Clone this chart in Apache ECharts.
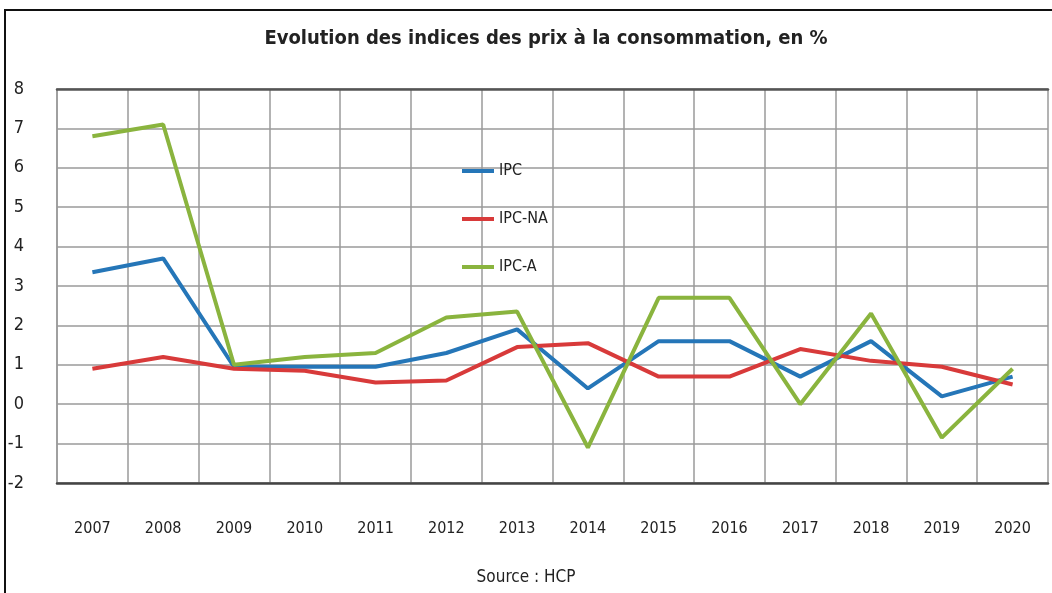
<!DOCTYPE html>
<html>
<head>
<meta charset="utf-8">
<script src="https://cdn.jsdelivr.net/npm/echarts@6/dist/echarts.min.js"></script>
<style>
  html, body { margin: 0; padding: 0; background: #fff; }
  #chart { width: 1052px; height: 593px; }
</style>
</head>
<body>
<div id="chart"></div>
<script>
var years = ['2007','2008','2009','2010','2011','2012','2013','2014','2015','2016','2017','2018','2019','2020'];
var ipc   = [3.35, 3.7, 0.95, 0.95, 0.95, 1.3, 1.9, 0.4, 1.6, 1.6, 0.7, 1.6, 0.2, 0.7];
var ipcNA = [0.9, 1.2, 0.9, 0.85, 0.55, 0.6, 1.45, 1.55, 0.7, 0.7, 1.4, 1.1, 0.95, 0.5];
var ipcA  = [6.8, 7.1, 1.0, 1.2, 1.3, 2.2, 2.35, -1.1, 2.7, 2.7, 0.0, 2.3, -0.85, 0.9];

var narrow = "'Liberation Sans Narrow', 'DejaVu Sans Condensed', sans-serif";

var myChart = echarts.init(document.getElementById('chart'));
myChart.setOption({
    animation: false,
    backgroundColor: '#fff',
    title: {
        text: 'Evolution des indices des prix à la consommation, en %',
        left: 541, top: 24, textAlign: 'center',
        textStyle: { fontFamily: narrow, fontSize: 20, fontWeight: 'bold', color: '#222' }
    },
    graphic: [
        { type: 'rect', shape: { x: 5, y: 10, width: 1060, height: 600 },
          style: { fill: 'none', stroke: '#111', lineWidth: 2 }, z: 100 },
        { type: 'text', left: 'center', top: 569, x: 20,
          style: { text: 'Source : HCP', font: '17px ' + narrow, fill: '#222' } }
    ],
    legend: {
        orient: 'vertical', left: 457, top: 158, itemGap: 32,
        itemWidth: 32, itemHeight: 4,
        icon: 'rect',
        textStyle: { fontFamily: narrow, fontSize: 16, color: '#222' },
        data: ['IPC', 'IPC-NA', 'IPC-A']
    },
    grid: { left: 57, right: 4, top: 89, bottom: 110 },
    xAxis: [{
        type: 'category', data: years, boundaryGap: true,
        axisLine: { onZero: false, lineStyle: { color: '#444', width: 2.5 } },
        axisTick: { show: false },
        splitLine: { show: true, lineStyle: { color: '#9a9a9a', width: 1.5 } },
        axisLabel: { margin: 38, fontFamily: narrow, fontSize: 16, color: '#222' }
    }, {
        type: 'category', data: years, position: 'top',
        axisLine: { onZero: false, lineStyle: { color: '#555', width: 2.5 } },
        axisTick: { show: false }, axisLabel: { show: false }
    }],
    yAxis: {
        type: 'value', min: -2, max: 8, interval: 1,
        axisLine: { show: true, lineStyle: { color: '#9a9a9a', width: 1.5 } },
        axisTick: { show: false },
        splitLine: { lineStyle: { color: '#9a9a9a', width: 1.5 } },
        axisLabel: { margin: 33, fontFamily: narrow, fontSize: 18, color: '#222' }
    },
    series: [
        { name: 'IPC', type: 'line', data: ipc, symbol: 'none',
          lineStyle: { color: '#2576b8', width: 4 }, itemStyle: { color: '#2576b8' } },
        { name: 'IPC-NA', type: 'line', data: ipcNA, symbol: 'none',
          lineStyle: { color: '#d83a3a', width: 4 }, itemStyle: { color: '#d83a3a' } },
        { name: 'IPC-A', type: 'line', data: ipcA, symbol: 'none',
          lineStyle: { color: '#8ab43e', width: 4 }, itemStyle: { color: '#8ab43e' } }
    ]
});
</script>
</body>
</html>
